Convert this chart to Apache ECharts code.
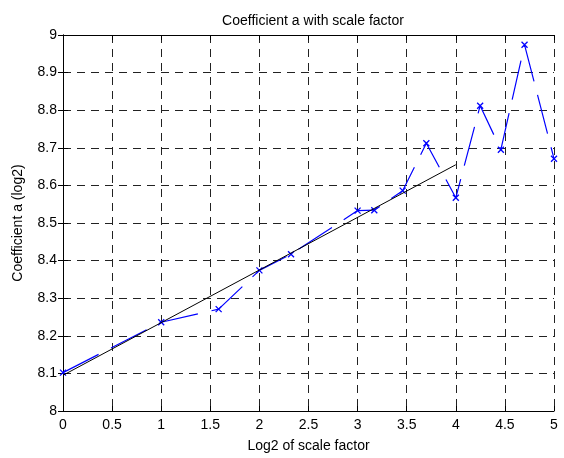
<!DOCTYPE html>
<html>
<head>
<meta charset="utf-8">
<script src="https://cdn.jsdelivr.net/npm/echarts@6/dist/echarts.min.js"></script>
<style>
html,body{margin:0;padding:0;background:#fff;}
#c{width:564px;height:458px;}
</style>
</head>
<body>
<div id="c"></div>
<script>
// log2 of scale factor (x) and measured coefficient a (log2)
var scaleX = [0, 1, 1.585, 2, 2.322, 3, 3.17, 3.459, 3.7, 4, 4.248, 4.459, 4.7, 5];
var coefA = [8.102, 8.236, 8.271, 8.374, 8.417, 8.533, 8.534, 8.586, 8.712, 8.567, 8.812, 8.695, 8.974, 8.671];
// linear fit line end points
var fitX = [0, 4];
var fitY = [8.095, 8.655];
var xTicks = [0, 0.5, 1, 1.5, 2, 2.5, 3, 3.5, 4, 4.5, 5];
var yTicks = [8, 8.1, 8.2, 8.3, 8.4, 8.5, 8.6, 8.7, 8.8, 8.9, 9];

var FONT = "'Liberation Sans', Arial, Helvetica, sans-serif";
function pairs(xs, ys){ return xs.map(function(x,i){ return [x, ys[i]]; }); }

var chart = echarts.init(document.getElementById('c'), null, {renderer:'canvas'});
var gridDash = {color:'#222', width:1, type:[8,6]};
var lineAxis = {show:true, lineStyle:{color:'#000', width:1}};
var tick = {show:true, inside:true, length:5, lineStyle:{color:'#000', width:1}};
chart.setOption({
  animation:false,
  backgroundColor:'#fff',
  title:{
    text:'Coefficient a with scale factor',
    left:308, top:9, textAlign:'center',
    textStyle:{fontFamily:FONT, fontSize:14, fontWeight:'normal', color:'#000'}
  },
  grid:{left:63, right:10, top:35, bottom:41, containLabel:false},
  xAxis:[{
    type:'value', min:xTicks[0], max:xTicks[xTicks.length-1], interval:0.5,
    position:'bottom',
    name:'Log2 of scale factor', nameLocation:'middle', nameGap:28,
    nameTextStyle:{fontFamily:FONT, fontSize:14, color:'#000'},
    axisLine:lineAxis, axisTick:tick,
    axisLabel:{fontFamily:FONT, fontSize:14, color:'#000', margin:7},
    splitLine:{show:true, lineStyle:gridDash}
  },{
    type:'value', min:xTicks[0], max:xTicks[xTicks.length-1], interval:0.5,
    position:'top',
    axisLine:lineAxis, axisTick:tick, axisLabel:{show:false}, splitLine:{show:false}
  }],
  yAxis:[{
    type:'value', min:yTicks[0], max:yTicks[yTicks.length-1], interval:0.1,
    position:'left',
    name:'Coefficient a (log2)', nameLocation:'middle', nameGap:38,
    nameTextStyle:{fontFamily:FONT, fontSize:14, color:'#000'},
    axisLine:lineAxis, axisTick:tick,
    axisLabel:{fontFamily:FONT, fontSize:14, color:'#000', margin:6,
      formatter:function(v){ return String(Math.round(v*10)/10); }},
    splitLine:{show:true, lineStyle:gridDash}
  },{
    type:'value', min:yTicks[0], max:yTicks[yTicks.length-1], interval:0.1,
    position:'right',
    axisLine:lineAxis, axisTick:tick, axisLabel:{show:false}, splitLine:{show:false}
  }],
  series:[{
    type:'line',
    data:pairs(scaleX, coefA),
    xAxisIndex:0, yAxisIndex:0,
    symbol:'path://M0,0L10,10M10,0L0,10',
    symbolSize:6,
    showSymbol:true,
    itemStyle:{color:'rgba(0,0,0,0)', borderColor:'#0000ff', borderWidth:1.3},
    lineStyle:{color:'#0000ff', width:1.2, type:[40,14]},
    z:3
  },{
    type:'line',
    data:pairs(fitX, fitY),
    xAxisIndex:0, yAxisIndex:0,
    symbol:'none',
    lineStyle:{color:'#000', width:1},
    z:4
  }]
});
</script>
</body>
</html>
